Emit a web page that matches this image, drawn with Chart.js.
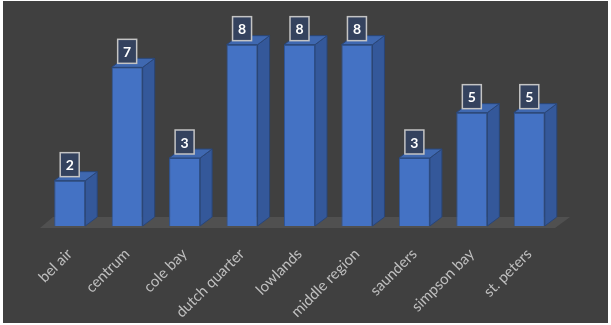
<!DOCTYPE html>
<html>
<head>
<meta charset="utf-8">
<script src="https://cdn.jsdelivr.net/npm/chart.js@4.4.0/dist/chart.umd.min.js"></script>
<style>
    body { margin: 0; background: #ffffff; }
    #wrap { position: absolute; left: 3px; top: 1px; width: 605px; height: 322px; background: #404040; }
</style>
</head>
<body>
<div id="wrap"><canvas id="myChart"></canvas></div>
<script>
// donnees du graphique
const districts = ['bel air', 'centrum', 'cole bay', 'dutch quarter', 'lowlands', 'middle region', 'saunders', 'simpson bay', 'st. peters'];
const counts = [2, 7, 3, 8, 8, 8, 3, 5, 5];

// profondeur de l'effet 3D
const DX = 12;
const DY = 9;

// sol gris sous les barres
const floorPlugin = {
    id: 'floor',
    beforeDatasetsDraw(chart) {
        const ctx = chart.ctx;
        const a = chart.chartArea;
        const base = chart.scales.y.getPixelForValue(0);
        ctx.save();
        ctx.fillStyle = '#505050';
        ctx.beginPath();
        ctx.moveTo(a.left - 1, base + 2);
        ctx.lineTo(a.right - 3, base + 2);
        ctx.lineTo(a.right - 3 + DX + 3, base - DY);
        ctx.lineTo(a.left - 1 + DX + 1, base - DY);
        ctx.closePath();
        ctx.fill();
        ctx.restore();
    }
};

// faces laterales, dessus et etiquettes
const box3dPlugin = {
    id: 'box3d',
    afterDatasetsDraw(chart) {
        const ctx = chart.ctx;
        const meta = chart.getDatasetMeta(0);
        ctx.save();
        meta.data.forEach((bar, i) => {
            const r = bar.x + bar.width / 2;
            const l = bar.x - bar.width / 2;
            const top = bar.y;
            const base = bar.base;

            // cote droit
            ctx.fillStyle = '#34589a';
            ctx.strokeStyle = '#2a4677';
            ctx.lineWidth = 1;
            ctx.beginPath();
            ctx.moveTo(r, top);
            ctx.lineTo(r + DX, top - DY);
            ctx.lineTo(r + DX, base - DY);
            ctx.lineTo(r, base);
            ctx.closePath();
            ctx.fill();
            ctx.stroke();

            // dessus
            ctx.fillStyle = '#3f68b0';
            ctx.beginPath();
            ctx.moveTo(l, top);
            ctx.lineTo(l + DX, top - DY);
            ctx.lineTo(r + DX, top - DY);
            ctx.lineTo(r, top);
            ctx.closePath();
            ctx.fill();
            ctx.stroke();

            // etiquette de valeur
            const bw = 19, bh = 24;
            const bx = bar.x - bw / 2;
            const by = top - 4 - bh;
            ctx.fillStyle = '#34425e';
            ctx.fillRect(bx, by, bw, bh);
            ctx.strokeStyle = '#c4c4c4';
            ctx.lineWidth = 1.5;
            ctx.strokeRect(bx, by, bw, bh);
            ctx.fillStyle = '#ffffff';
            ctx.font = 'bold 14px Lato';
            ctx.textAlign = 'center';
            ctx.textBaseline = 'middle';
            ctx.fillText(String(counts[i]), bar.x, by + bh / 2 + 1);
        });
        ctx.restore();
    }
};

let initChart = () => {
    const data = {
        labels: districts,
        datasets: [{
            data: counts,
            backgroundColor: '#4472c4',
            borderColor: '#2f5597',
            borderWidth: 1,
            barPercentage: 0.9,
            categoryPercentage: 0.6
        }]
    };

    const config = {
        type: 'bar',
        data: data,
        options: {
            responsive: true,
            maintainAspectRatio: false,
            animation: false,
            layout: { padding: { left: 38, right: 50, top: 21, bottom: 0 } },
            plugins: {
                legend: { display: false },
                tooltip: { enabled: false }
            },
            scales: {
                y: { display: false, min: 0, max: 9 },
                x: {
                    grid: { display: false },
                    border: { display: false },
                    ticks: {
                        color: '#bfbfbf',
                        font: { family: 'Lato', size: 15 },
                        minRotation: 45,
                        maxRotation: 45,
                        padding: 11
                    },
                    afterFit(scale) { scale.height = 97; }
                }
            }
        },
        plugins: [floorPlugin, box3dPlugin]
    };

    new Chart(document.getElementById('myChart'), config);
};

initChart();
</script>
</body>
</html>
